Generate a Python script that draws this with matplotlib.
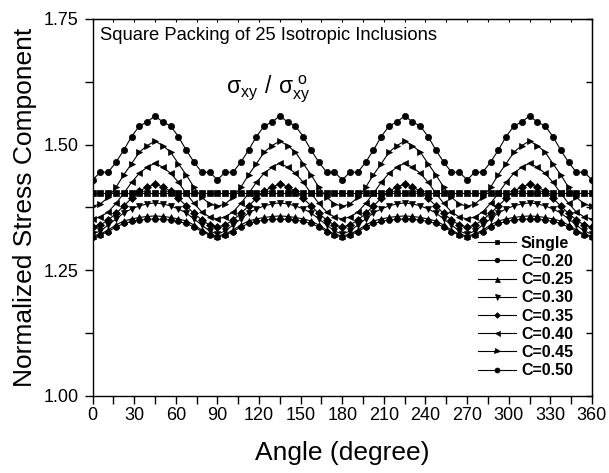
"""
Normalized stress sxy/sxy0 vs angle, square packing of 25 inclusions
"""
import numpy as np
import matplotlib
matplotlib.use('Agg')
import matplotlib.pyplot as plt
from matplotlib.ticker import MultipleLocator, FormatStrFormatter, NullFormatter

plt.rcParams['font.family'] = ['Liberation Sans', 'DejaVu Sans']
plt.rcParams['mathtext.fontset'] = 'custom'
plt.rcParams['mathtext.rm'] = 'Liberation Sans'

# angle step: 64 points per turn
step = 5.625
angles = np.arange(0, 360 + step / 2, step)

# values for 0..45 deg (one quarter period)
single = [1.404] * 9
c020 = [1.316, 1.320, 1.327, 1.336, 1.343, 1.347, 1.350, 1.351, 1.352]
c025 = [1.318, 1.322, 1.330, 1.340, 1.348, 1.352, 1.355, 1.357, 1.358]
c030 = [1.322, 1.328, 1.340, 1.352, 1.364, 1.372, 1.378, 1.382, 1.384]
c035 = [1.336, 1.340, 1.350, 1.363, 1.378, 1.393, 1.407, 1.416, 1.421]
c040 = [1.352, 1.356, 1.366, 1.383, 1.403, 1.425, 1.443, 1.455, 1.463]
c045 = [1.377, 1.382, 1.395, 1.415, 1.440, 1.462, 1.485, 1.498, 1.507]
c050 = [1.430, 1.445, 1.445, 1.465, 1.489, 1.516, 1.537, 1.545, 1.557]

labels = ['Single', 'C=0.20', 'C=0.25', 'C=0.30', 'C=0.35',
          'C=0.40', 'C=0.45', 'C=0.50']
series = [single, c020, c025, c030, c035, c040, c045, c050]
markers = ['s', 'o', '^', 'v', 'D', '<', '>', 'o']
msizes = [4.0, 4.2, 4.5, 4.5, 3.6, 4.5, 4.5, 4.5]


def full_turn(q):
    '''quarter period 0..45 mirrored to 90 and repeated to 360'''
    q = list(q)
    period = q + q[-2::-1][:-1]  # 0 .. 84.375
    vals = period * 4 + [q[0]]
    return np.array(vals)


fig = plt.figure(figsize=(6.09, 4.73), dpi=100)
ax = fig.add_axes([0.152, 0.163, 0.820, 0.797])

for lab, q, m, ms in zip(labels, series, markers, msizes):
    ax.plot(angles, full_turn(q), color='black', lw=0.8, marker=m,
            markersize=ms, markeredgewidth=0.5, label=lab)

ax.set_xlim(0, 360)
ax.set_ylim(1.00, 1.75)
ax.xaxis.set_major_locator(MultipleLocator(30))
ax.xaxis.set_minor_locator(MultipleLocator(15))
ax.yaxis.set_major_locator(MultipleLocator(0.25))
ax.yaxis.set_minor_locator(MultipleLocator(0.125))
ax.yaxis.set_major_formatter(FormatStrFormatter('%.2f'))
ax.tick_params(which='both', direction='out', length=6, width=1,
               labelsize=13, pad=2)
ax.tick_params(axis='y', pad=4)
for s in ax.spines.values():
    s.set_linewidth(1.0)

# inward ticks on top and right, no labels
top = ax.secondary_xaxis('top')
top.xaxis.set_major_locator(MultipleLocator(30))
top.xaxis.set_minor_locator(MultipleLocator(15))
top.xaxis.set_major_formatter(NullFormatter())
top.tick_params(which='both', direction='in', length=2.5, width=0.8)
right = ax.secondary_yaxis('right')
right.yaxis.set_major_locator(MultipleLocator(0.25))
right.yaxis.set_minor_locator(MultipleLocator(0.125))
right.yaxis.set_major_formatter(NullFormatter())
right.tick_params(which='both', direction='in', length=4, width=1)

ax.set_xlabel('Angle (degree)', fontsize=19, labelpad=12)
ax.set_ylabel('Normalized Stress Component', fontsize=19, labelpad=5)

ax.text(0.014, 0.978, 'Square Packing of 25 Isotropic Inclusions',
        transform=ax.transAxes, ha='left', va='top', fontsize=13.2)
ax.text(127, 1.61, r'$\mathrm{σ_{xy}\ /\ σ_{xy}^{\ o}}$', ha='center',
        va='center', fontsize=16.5)

leg = ax.legend(loc='lower right', frameon=False,
                prop={'weight': 'bold', 'size': 11.5},
                handlelength=2.4, handletextpad=0.3, labelspacing=0.2,
                markerscale=0.8, borderaxespad=0,
                bbox_to_anchor=(0.975, 0.03))

fig.savefig('out.png', dpi=100)
